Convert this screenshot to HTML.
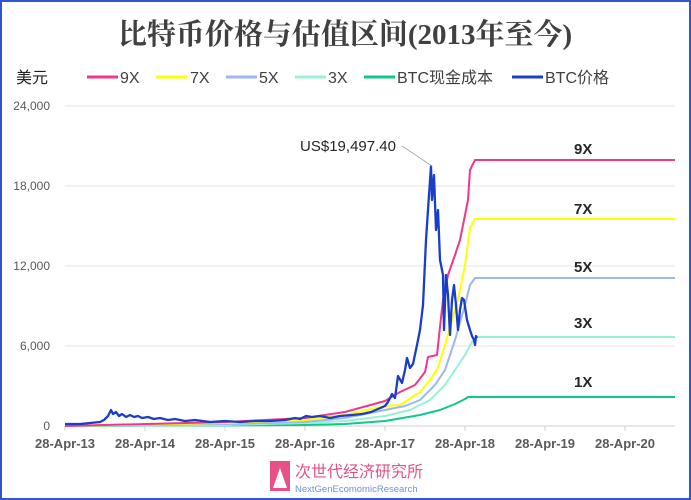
<!DOCTYPE html>
<html><head><meta charset="utf-8"><style>
body{margin:0;background:#fff}
.w{position:relative;width:687px;height:496px;border:2px solid #2f55d4;overflow:hidden;font-family:"Liberation Sans","Noto Sans CJK SC",sans-serif}
</style></head><body><div class="w">
<svg width="687" height="496" viewBox="2 2 687 496" xmlns="http://www.w3.org/2000/svg" style="position:absolute;left:0;top:0">
<text x="345" y="44" text-anchor="middle" font-family="Liberation Serif,'Noto Serif CJK SC',serif" font-weight="bold" font-size="29" fill="#404040">比特币价格与估值区间(2013年至今)</text>
<g font-family="'Liberation Sans Narrow',Liberation Sans,'Noto Sans CJK SC',sans-serif" font-size="16" fill="#404040">
<text x="16" y="83" font-size="16" fill="#222">美元</text>
<line x1="87" y1="77" x2="118" y2="77" stroke="#f0388a" stroke-width="3"/><text x="120" y="83">9X</text>
<line x1="156" y1="77" x2="187" y2="77" stroke="#ffff00" stroke-width="3"/><text x="190" y="83">7X</text>
<line x1="226" y1="77" x2="257" y2="77" stroke="#9fb6ee" stroke-width="3"/><text x="259" y="83">5X</text>
<line x1="295" y1="77" x2="326" y2="77" stroke="#99f0d8" stroke-width="3"/><text x="328" y="83">3X</text>
<line x1="364" y1="77" x2="395" y2="77" stroke="#10c888" stroke-width="3"/><text x="397" y="83">BTC现金成本</text>
<line x1="512" y1="77" x2="543" y2="77" stroke="#1a3ec8" stroke-width="3"/><text x="545" y="83">BTC价格</text>
</g>
<g stroke="#e6e6e6" stroke-width="1"><line x1="65" y1="106" x2="675" y2="106"/><line x1="65" y1="186" x2="675" y2="186"/><line x1="65" y1="266" x2="675" y2="266"/><line x1="65" y1="346" x2="675" y2="346"/></g>
<line x1="65" y1="426" x2="675" y2="426" stroke="#d0d0d0"/>
<g stroke="#d0d0d0"><line x1="65" y1="426" x2="65" y2="431"/><line x1="145" y1="426" x2="145" y2="431"/><line x1="225" y1="426" x2="225" y2="431"/><line x1="305" y1="426" x2="305" y2="431"/><line x1="385" y1="426" x2="385" y2="431"/><line x1="465" y1="426" x2="465" y2="431"/><line x1="545" y1="426" x2="545" y2="431"/><line x1="625" y1="426" x2="625" y2="431"/></g>
<g font-family="'Liberation Sans Narrow',Liberation Sans,sans-serif" font-size="12" fill="#595959" text-anchor="end"><text x="50" y="110">24,000</text><text x="50" y="190">18,000</text><text x="50" y="270">12,000</text><text x="50" y="350">6,000</text><text x="50" y="430">0</text></g>
<g font-family="'Liberation Sans Narrow',Liberation Sans,sans-serif" font-size="13" font-weight="bold" fill="#595959" text-anchor="middle"><text x="65" y="448">28-Apr-13</text><text x="145" y="448">28-Apr-14</text><text x="225" y="448">28-Apr-15</text><text x="305" y="448">28-Apr-16</text><text x="385" y="448">28-Apr-17</text><text x="465" y="448">28-Apr-18</text><text x="545" y="448">28-Apr-19</text><text x="625" y="448">28-Apr-20</text></g>
<g fill="none" stroke-width="2" stroke-linejoin="round">
<polyline stroke="#10c888" points="65,426 305,425 345,424 385,421 420,415 440,410 455,404 465,399 468,397 675,397"/>
<polyline stroke="#99f0d8" points="65,426 225,425 305,423 345,421 385,416 410,410 430,400 445,385 455,370 465,355 472,342 477,337 675,337"/>
<polyline stroke="#9fb6ee" points="65,426 225,424 305,422 345,418 385,410 405,406 420,400 435,385 445,370 455,340 465,305 470,285 475,278 675,278"/>
<polyline stroke="#ffff00" points="65,426 225,423 305,420 345,415 385,406 400,405 420,392 430,380 437,370 445,345 452,320 458,300 465,265 470,228 475,219 675,219"/>
<polyline stroke="#f0388a" points="65,426 225,422 305,418 345,412 385,401 400,392 415,385 425,372 428,357 437,355 440,327 443,300 448,275 455,255 460,240 465,215 468,200 470,170 475,160 675,160"/>
<polyline stroke="#1a3ec8" stroke-width="2.3" points="65,424 80,424 90,423 100,422 104,420 108,416 111,410 113,414 116,412 119,416 122,414 126,417 130,415 134,417 138,416 142,418 148,417 154,419 160,418 168,420 175,419 185,421 195,420 210,422 225,421 240,422 255,421 270,421 285,420 295,418 300,419 306,416 312,417 320,416 330,418 340,416 352,415 362,414 371,412 378,409 385,406 388,402 392,394 395,398 398,376 402,383 405,370 407,358 410,368 413,364 417,345 420,330 423,305 426,240 429,195 431,166 432,200 434,175 436,230 438,210 440,260 443,275 444,330 446,275 448,295 450,335 452,300 454,285 456,305 458,330 460,310 462,298 464,300 467,320 470,330 472,336 474,340 475,345 476,336 477,338"/>
</g>
<line x1="402" y1="146" x2="432" y2="166" stroke="#aaa"/>
<text x="348" y="151" font-size="15" text-anchor="middle" fill="#262626">US$19,497.40</text>
<g font-size="15" font-weight="bold" fill="#262626"><text x="574" y="154">9X</text><text x="574" y="214">7X</text><text x="574" y="272">5X</text><text x="574" y="328">3X</text><text x="574" y="387">1X</text></g>
<rect x="270" y="461" width="20" height="30" fill="#e8508a"/>
<polygon points="280,468 273,488 287,488" fill="#fff"/>
<text x="295" y="477" font-size="16" fill="#e8508a">次世代经济研究所</text>
<text x="295" y="492" font-size="9.5" fill="#6f8fe0">NextGenEcomomicResearch</text>
</svg></div></body></html>
